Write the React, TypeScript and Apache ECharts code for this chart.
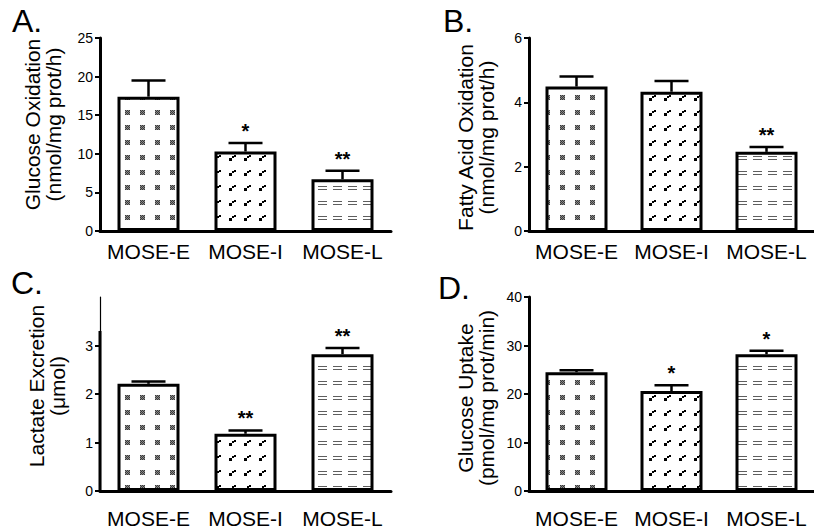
import React, { useEffect, useRef } from 'react';
import * as echarts from 'echarts';

// ---------- data ----------
const categories = ['MOSE-E', 'MOSE-I', 'MOSE-L'];

const glucoseOxMean = [17.4, 10.3, 6.7];
const glucoseOxErr = [2.1, 1.1, 1.1];
const glucoseOxSig = ['', '*', '**'];

const fattyOxMean = [4.49, 4.33, 2.46];
const fattyOxErr = [0.31, 0.33, 0.15];
const fattyOxSig = ['', '', '**'];

const lactateMean = [2.21, 1.18, 2.82];
const lactateErr = [0.05, 0.07, 0.13];
const lactateSig = ['', '**', '**'];
const lactateTicks = [0, 1, 2, 3];
const lactateSolidTop = [3.3];

const uptakeMean = [24.5, 20.6, 28.2];
const uptakeErr = [0.4, 1.2, 0.7];
const uptakeSig = ['', '*', '*'];

const FONT = 'Arial, "Liberation Sans", Helvetica, sans-serif';

// ---------- patterns ----------
function tile(kind: string): string {
  const c = document.createElement('canvas');
  c.width = 15;
  c.height = 15;
  const ctx = c.getContext('2d')!;
  ctx.fillStyle = '#ffffff';
  ctx.fillRect(0, 0, 15, 15);
  if (kind === 'E') {
    ctx.fillStyle = '#3a3a3a';
    const pts = [
      [0, 0], [2, 0], [4, 0],
      [1, 1], [3, 1],
      [0, 2], [2, 2], [4, 2],
      [1, 3], [3, 3],
      [0, 4], [2, 4], [4, 4],
    ];
    pts.forEach(([x, y]) => ctx.fillRect(5 + x, 5 + y, 1, 1));
    ctx.fillStyle = '#8a8a8a';
    const mid = [[1, 0], [3, 0], [0, 1], [2, 1], [4, 1], [1, 2], [3, 2], [0, 3], [2, 3], [4, 3], [1, 4], [3, 4]];
    mid.forEach(([x, y]) => ctx.fillRect(5 + x, 5 + y, 1, 1));
  } else if (kind === 'I') {
    ctx.fillStyle = '#000000';
    ctx.fillRect(4, 8, 3, 3);
    ctx.fillRect(7, 6, 2, 2);
    ctx.fillRect(9, 5, 2, 2);
  } else {
    ctx.fillStyle = '#5e5e5e';
    ctx.fillRect(3, 6, 9, 1);
    ctx.fillRect(3, 9, 9, 1);
  }
  return c.toDataURL();
}

type Panel = {
  letter: string;
  name: string;
  mean: number[];
  err: number[];
  sig: string[];
  max: number;
  interval: number;
  ticks?: number[];
  solidTop?: number[];
};

const panels: Panel[] = [
  { letter: 'A.', name: 'Glucose Oxidation\n(nmol/mg prot/h)', mean: glucoseOxMean, err: glucoseOxErr, sig: glucoseOxSig, max: 25, interval: 5 },
  { letter: 'B.', name: 'Fatty Acid Oxidation\n(nmol/mg prot/h)', mean: fattyOxMean, err: fattyOxErr, sig: fattyOxSig, max: 6, interval: 2 },
  { letter: 'C.', name: 'Lactate Excretion\n(\u03bcmol)', mean: lactateMean, err: lactateErr, sig: lactateSig, max: 4, interval: 1, ticks: lactateTicks, solidTop: lactateSolidTop },
  { letter: 'D.', name: 'Glucose Uptake\n(pmol/mg prot/min)', mean: uptakeMean, err: uptakeErr, sig: uptakeSig, max: 40, interval: 10 },
];

const layouts = [
  { grid: { left: 100, top: 38, width: 291, height: 193 }, letter: { left: 12, top: 5 }, nameGap: 36, namePad: [0, 0, 0, 20], labelMargin: 10 },
  { grid: { left: 529, top: 38, width: 291, height: 193 }, letter: { left: 443, top: 5 }, nameGap: 32, namePad: [0, 6, 0, 0], labelMargin: 10 },
  { grid: { left: 100, top: 297, width: 291, height: 194 }, letter: { left: 11, top: 267 }, nameGap: 32, namePad: [0, 0, 0, 16], labelMargin: 17 },
  { grid: { left: 529, top: 297, width: 291, height: 194 }, letter: { left: 438, top: 272 }, nameGap: 32, namePad: [0, 8, 0, 0], labelMargin: 17 },
];

function buildOption() {
  const fills = ['E', 'I', 'L'].map((k) => ({
    image: tile(k),
    repeat: 'repeat',
    imageWidth: 15,
    imageHeight: 15,
  }));

  const grid: any[] = [];
  const xAxis: any[] = [];
  const yAxis: any[] = [];
  const series: any[] = [];
  const title: any[] = [];

  panels.forEach((p, k) => {
    const L = layouts[k];
    grid.push({ ...L.grid, containLabel: false });
    title.push({
      text: p.letter,
      left: L.letter.left,
      top: L.letter.top,
      padding: 0,
      textStyle: { fontSize: 32, fontWeight: 'normal', color: '#000', fontFamily: FONT },
    });
    xAxis.push({
      type: 'category',
      gridIndex: k,
      data: categories,
      axisLine: { lineStyle: { color: '#000', width: 3 } },
      axisTick: { alignWithLabel: true, length: 7, lineStyle: { color: '#000', width: 3 } },
      axisLabel: { color: '#000', fontSize: 21, fontFamily: FONT, margin: L.labelMargin, interval: 0 },
      splitLine: { show: false },
    });
    const y: any = {
      type: 'value',
      gridIndex: k,
      min: 0,
      max: p.max,
      interval: p.interval,
      name: p.name,
      nameLocation: 'middle',
      nameGap: L.nameGap,
      nameTextStyle: { color: '#000', fontSize: 21, lineHeight: 21, fontFamily: FONT, padding: L.namePad },
      axisLine: { show: true, lineStyle: { color: '#000', width: p.solidTop ? 1.2 : 3 } },
      axisTick: { show: true, length: 5, lineStyle: { color: '#000', width: 2 } },
      axisLabel: { color: '#000', fontSize: 14, fontFamily: FONT, margin: 7 },
      splitLine: { show: false },
    };
    if (p.ticks) {
      y.axisTick.customValues = p.ticks;
      y.axisLabel.customValues = p.ticks;
    }
    yAxis.push(y);

    series.push({
      type: 'bar',
      xAxisIndex: k,
      yAxisIndex: k,
      barWidth: 62,
      data: p.mean.map((v, i) => ({
        value: v,
        itemStyle: { color: fills[i], borderColor: '#000', borderWidth: 3 },
      })),
    });

    series.push({
      type: 'custom',
      xAxisIndex: k,
      yAxisIndex: k,
      data: p.mean.map((m, i) => [i, m, m + p.err[i]]),
      z: 5,
      renderItem: (params: any, api: any) => {
        const x = api.value(0);
        const base = api.coord([x, api.value(1)]);
        const top = api.coord([x, api.value(2)]);
        const s = p.sig[params.dataIndex];
        const children: any[] = [
          { type: 'line', shape: { x1: base[0], y1: base[1], x2: top[0], y2: top[1] }, style: { stroke: '#000', lineWidth: 2.5 } },
          { type: 'line', shape: { x1: top[0] - 17, y1: top[1], x2: top[0] + 17, y2: top[1] }, style: { stroke: '#000', lineWidth: 2.5 } },
        ];
        if (s) {
          children.push({
            type: 'text',
            x: top[0],
            y: top[1] - 2,
            style: { text: s, fill: '#000', font: `bold 20px ${FONT}`, align: 'center', verticalAlign: 'bottom' },
          });
        }
        return { type: 'group', children };
      },
    });

    if (p.solidTop) {
      series.push({
        type: 'custom',
        xAxisIndex: k,
        yAxisIndex: k,
        data: p.solidTop.map((t) => [0, 0, t]),
        z: 6,
        renderItem: (params: any, api: any) => {
          const half = api.size([1, 0])[0] / 2;
          const b = api.coord([0, api.value(1)]);
          const t = api.coord([0, api.value(2)]);
          return {
            type: 'line',
            shape: { x1: b[0] - half, y1: b[1], x2: t[0] - half, y2: t[1] },
            style: { stroke: '#000', lineWidth: 3 },
          };
        },
      });
    }
  });

  return {
    animation: false,
    backgroundColor: '#ffffff',
    textStyle: { fontFamily: FONT },
    title,
    grid,
    xAxis,
    yAxis,
    series,
  };
}

export default function App() {
  const ref = useRef<HTMLDivElement>(null);
  useEffect(() => {
    document.body.style.margin = '0';
    const chart = echarts.init(ref.current!, null, { renderer: 'svg' });
    chart.setOption(buildOption() as any);
    return () => chart.dispose();
  }, []);
  return <div ref={ref} style={{ width: 814, height: 529, background: '#fff' }} />;
}
